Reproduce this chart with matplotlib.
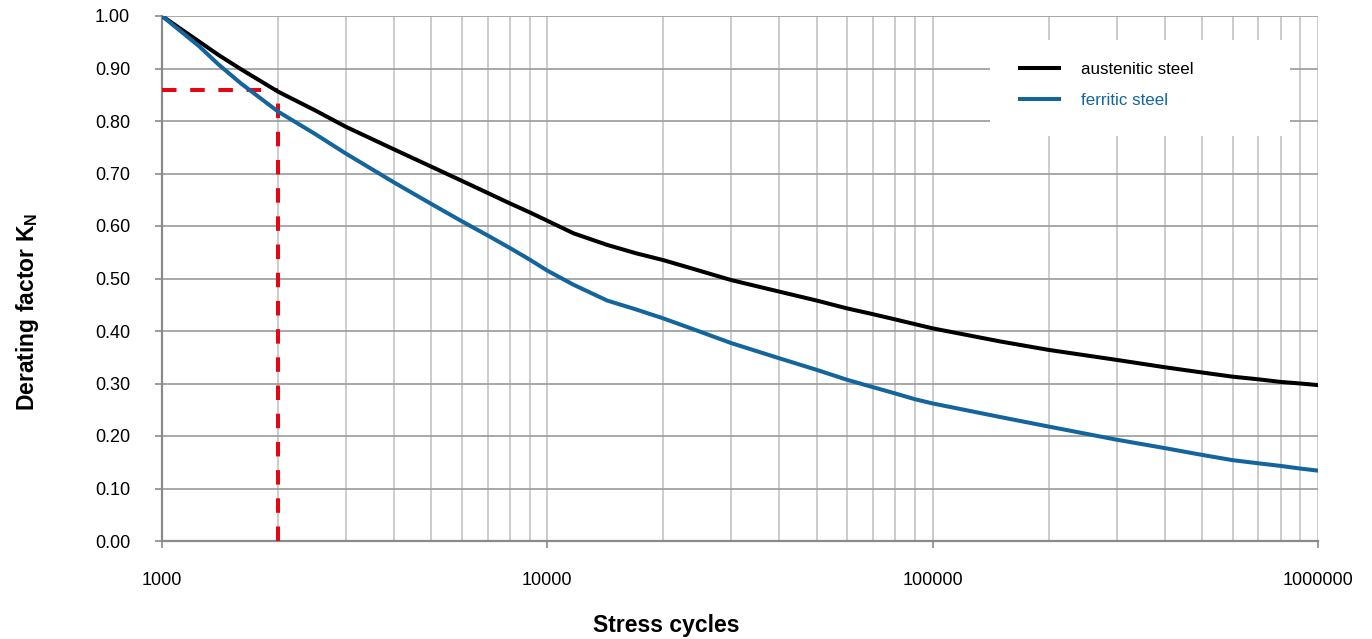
import matplotlib
matplotlib.use("Agg")
import matplotlib.pyplot as plt
from matplotlib.patches import Rectangle
from matplotlib.ticker import FixedLocator, FixedFormatter, LogLocator, NullFormatter

plt.rcParams['font.family'] = ['Liberation Sans', 'DejaVu Sans']

# derating factor K_N over the number of stress cycles
cycles = [1000, 1250, 1400, 1600, 2000, 2500, 3000, 4000, 5000, 6000, 7000, 8000, 9000,
          10000, 11700, 14300, 17000, 20000, 24000, 30000, 40000, 50000, 60000, 70000,
          80000, 90000, 100000, 150000, 200000, 300000, 400000, 500000, 600000, 700000,
          800000, 900000, 1000000]
austenitic = [1.000, 0.951, 0.926, 0.899, 0.856, 0.820, 0.789, 0.746, 0.713, 0.686, 0.663,
              0.643, 0.626, 0.610, 0.586, 0.564, 0.548, 0.535, 0.518, 0.497, 0.475, 0.458,
              0.443, 0.432, 0.422, 0.413, 0.405, 0.380, 0.364, 0.345, 0.331, 0.321, 0.313,
              0.308, 0.303, 0.300, 0.297]
ferritic = [1.000, 0.942, 0.908, 0.872, 0.818, 0.775, 0.738, 0.683, 0.642, 0.609, 0.582,
            0.558, 0.536, 0.515, 0.488, 0.458, 0.441, 0.424, 0.403, 0.377, 0.348, 0.326,
            0.307, 0.293, 0.281, 0.270, 0.262, 0.236, 0.218, 0.193, 0.177, 0.164, 0.154,
            0.148, 0.143, 0.138, 0.134]

# example reading: 2000 cycles -> K_N = 0.86
mark_cycles = 2000
mark_value = 0.86

yticks = [0.0, 0.1, 0.2, 0.3, 0.4, 0.5, 0.6, 0.7, 0.8, 0.9, 1.0]
xticks = [1000, 10000, 100000, 1000000]
xtick_labels = ["1000", "10000", "100000", "1000000"]

black = "#000000"
blue = "#14659c"
red = "#e30613"

fig = plt.figure(figsize=(13.72, 6.39), dpi=100)
ax = fig.add_axes([162 / 1372, 1 - 541 / 639, (1318 - 162) / 1372, (541 - 16) / 639])

ax.set_xscale('log')
ax.set_xlim(cycles[0], cycles[-1])
ax.set_ylim(0, 1.0)

# grid
ax.xaxis.set_major_locator(FixedLocator(xticks))
ax.xaxis.set_major_formatter(FixedFormatter(xtick_labels))
ax.xaxis.set_minor_locator(LogLocator(base=10, subs=range(2, 10)))
ax.xaxis.set_minor_formatter(NullFormatter())
ax.set_yticks(yticks)
ax.set_yticklabels([f"{v:.2f}" for v in yticks])
ax.grid(axis='x', which='both', color='#c4c4c4', linewidth=1.2, zorder=0)
ax.grid(axis='y', which='major', color='#9a9a9a', linewidth=1.2, zorder=0)
ax.set_axisbelow(True)

for side in ('top', 'right'):
    ax.spines[side].set_visible(False)
for side in ('left', 'bottom'):
    ax.spines[side].set_color('#8a8a8a')
    ax.spines[side].set_linewidth(1.6)

ax.tick_params(axis='x', which='major', length=5, width=1.2, color='#8a8a8a',
               pad=17, labelsize=13)
ax.tick_params(axis='x', which='minor', length=0)
ax.tick_params(axis='y', length=5, width=1.2, color='#8a8a8a', pad=18, labelsize=13)

# reading lines (vertical one drawn upwards so a dash sits on the axis)
ax.plot([cycles[0], mark_cycles], [mark_value, mark_value], color=red, lw=2.9,
        dashes=(3.6, 3.4), zorder=3)
ax.plot([mark_cycles, mark_cycles], [0, mark_value], color=red, lw=2.9,
        dashes=(3.6, 3.4), zorder=3)

ax.plot(cycles, austenitic, color=black, lw=2.9, zorder=4, solid_joinstyle='round',
        label='austenitic steel')
ax.plot(cycles, ferritic, color=blue, lw=2.9, zorder=4, solid_joinstyle='round',
        label='ferritic steel')

# white box behind the legend
ax.add_patch(Rectangle(((990 - 162) / 1156, (541 - 136) / 525), 300 / 1156, 96 / 525,
                       transform=ax.transAxes, facecolor='white', edgecolor='none',
                       zorder=2))
leg = ax.legend(loc='upper left', bbox_to_anchor=((1005 - 162) / 1156, (541 - 47) / 525),
                frameon=False, fontsize=12.2, handlelength=2.3, handletextpad=1.3,
                labelspacing=0.95)
leg.set_zorder(5)
for txt, col in zip(leg.get_texts(), [black, blue]):
    txt.set_color(col)

ax.set_xlabel("Stress cycles", fontsize=16.5, fontweight='bold')
ax.xaxis.set_label_coords(0.436, -0.139)
ax.set_ylabel(r"Derating factor K$_\mathregular{N}$", fontsize=16.5, fontweight='bold')
ax.yaxis.set_label_coords(-0.105, 0.436)

fig.savefig("out.png", dpi=100)
